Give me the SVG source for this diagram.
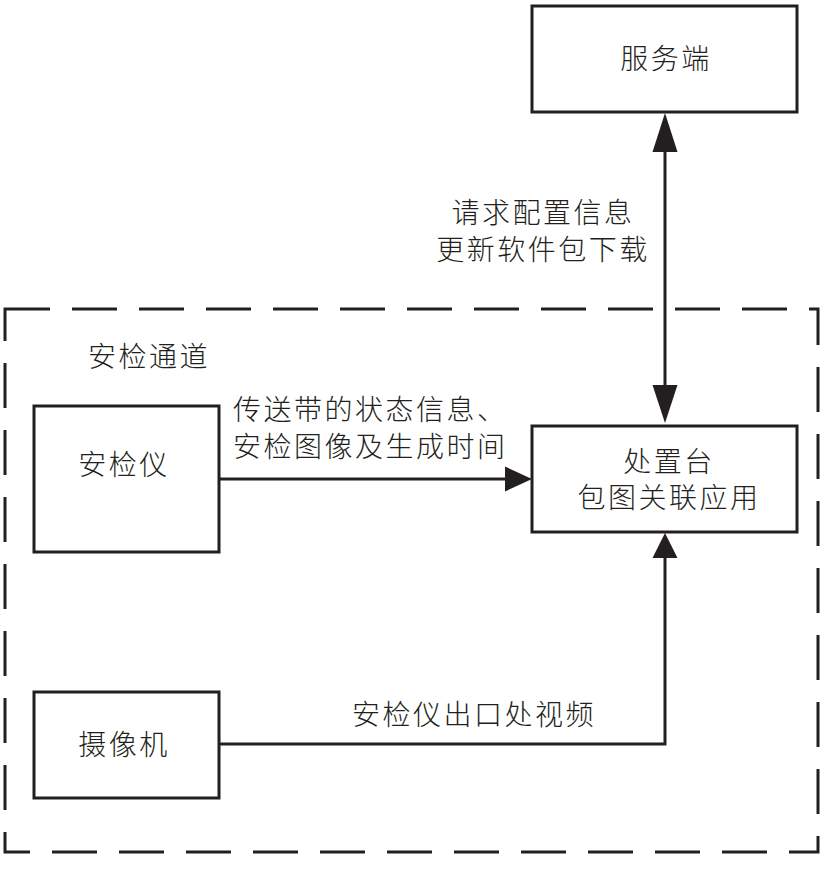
<svg xmlns="http://www.w3.org/2000/svg" width="826" height="882" viewBox="0 0 826 882">
<style>
.box{fill:#fff;stroke:#231f20;stroke-width:3}
.ln{fill:none;stroke:#231f20;stroke-width:3}
.ah{fill:#231f20;stroke:none}
.t{font-family:"Noto Sans CJK SC","Noto Sans",sans-serif;font-size:28px;font-weight:300;fill:#231f20;letter-spacing:2.5px}
.c{text-anchor:middle}
</style>
<rect width="826" height="882" fill="#fff"/>
<g id="channel">
<rect x="5" y="309" width="813" height="543" fill="none" stroke="#231f20" stroke-width="3" stroke-dasharray="45 22"/>
<text class="t" x="88" y="367">安检通道</text>
</g>
<g id="connectors">
<line class="ln" x1="665" y1="150" x2="665" y2="387"/>
<polygon class="ah" points="665,113 652.5,152 677.5,152"/>
<polygon class="ah" points="665,423 652.5,385 677.5,385"/>
<line class="ln" x1="219" y1="479" x2="507" y2="479"/>
<polygon class="ah" points="532,479 505,466.5 505,491.5"/>
<polyline class="ln" points="219,744 665,744 665,556"/>
<polygon class="ah" points="665,533 652.5,558 677.5,558"/>
<text class="t c" x="543" y="223">请求配置信息</text>
<text class="t c" x="543" y="260">更新软件包下载</text>
<text class="t" x="233" y="420">传送带的状态信息、</text>
<text class="t" x="233" y="457">安检图像及生成时间</text>
<text class="t" x="352" y="725">安检仪出口处视频</text>
</g>
<g id="server">
<rect class="box" x="532" y="6" width="265" height="106"/>
<text class="t c" x="666" y="69">服务端</text>
</g>
<g id="scanner">
<rect class="box" x="34" y="406" width="185" height="146"/>
<text class="t c" x="124" y="475">安检仪</text>
</g>
<g id="station">
<rect class="box" x="532" y="426" width="265" height="106"/>
<text class="t c" x="669" y="472">处置台</text>
<text class="t c" x="669" y="508">包图关联应用</text>
</g>
<g id="camera">
<rect class="box" x="34" y="692" width="185" height="106"/>
<text class="t c" x="124" y="755">摄像机</text>
</g>
</svg>
